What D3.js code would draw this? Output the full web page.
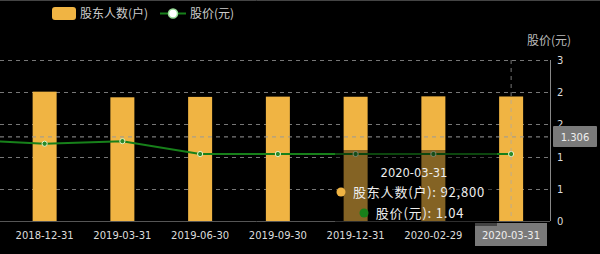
<!DOCTYPE html>
<html lang="zh">
<head>
    <meta charset="UTF-8">
    <title>股东人数</title>
    <script src="https://cdn.jsdelivr.net/npm/d3@7/dist/d3.min.js"></script>
    <style>
        body { margin: 0; background: #000; }
        svg { display: block; }
    </style>
</head>
<body>
<svg width="600" height="254" id="main"></svg>
<script>
    // first category sits just off the left edge, only its price line shows
    let dates = ['2018-09-30', '2018-12-31', '2019-03-31', '2019-06-30', '2019-09-30',
        '2019-12-31', '2020-02-29', '2020-03-31'];
    let holders = [null, 96400, 92200, 92500, 92700, 92600, 92900, 92800];
    let prices = [1.26, 1.20, 1.24, 1.04, 1.04, 1.04, 1.04, 1.04];
    let priceTicks = [0, 0.5, 1, 1.5, 2, 2.5];

    let svg = d3.select('#main');
    const font = '"Noto Sans CJK SC", "DejaVu Sans", sans-serif';
    const plot = {top: 60, bottom: 221, right: 550};

    let x = d3.scaleBand().domain(dates).range([-72, plot.right]).padding(0);
    let yLeft = d3.scaleLinear().domain([0, 120000]).range([plot.bottom, plot.top]);
    let yRight = d3.scaleLinear().domain([0, 2.5]).range([plot.bottom, plot.top]);
    const cx = d => x(d) + x.bandwidth() / 2;

    svg.append('line').attr('x1', 0).attr('x2', 600).attr('y1', 0.5).attr('y2', 0.5)
        .attr('stroke', '#444');

    // grid
    svg.append('g').selectAll('line').data(priceTicks.slice(1)).join('line')
        .attr('x1', 0).attr('x2', plot.right)
        .attr('y1', d => Math.round(yRight(d)) + 0.5).attr('y2', d => Math.round(yRight(d)) + 0.5)
        .attr('stroke', '#777').attr('stroke-dasharray', '4,4');

    // bars
    svg.append('g').selectAll('rect').data(dates.filter((d, i) => holders[i] != null)).join('rect')
        .attr('x', d => cx(d) - 12).attr('width', 24)
        .attr('y', d => yLeft(holders[dates.indexOf(d)]))
        .attr('height', d => plot.bottom - yLeft(holders[dates.indexOf(d)]))
        .attr('fill', '#f0b443');

    // axes lines
    svg.append('line').attr('x1', 0).attr('x2', plot.right).attr('y1', plot.bottom + 0.5).attr('y2', plot.bottom + 0.5)
        .attr('stroke', '#555');
    svg.append('line').attr('x1', plot.right + 0.5).attr('x2', plot.right + 0.5).attr('y1', plot.top).attr('y2', plot.bottom)
        .attr('stroke', '#888');

    // price line
    let line = d3.line().x((d, i) => cx(dates[i])).y(d => yRight(d));
    svg.append('path').datum(prices).attr('d', line)
        .attr('fill', 'none').attr('stroke', '#17801a').attr('stroke-width', 2);
    svg.append('g').selectAll('circle').data(prices).join('circle')
        .attr('cx', (d, i) => cx(dates[i])).attr('cy', d => yRight(d)).attr('r', 2.6)
        .attr('fill', '#2a8a2a').attr('stroke', '#e8f5c8').attr('stroke-width', 1);

    // x labels (only the categories inside the view)
    svg.append('g').selectAll('text').data(dates.filter(d => cx(d) > 0)).join('text')
        .attr('x', d => cx(d)).attr('y', 239)
        .attr('text-anchor', 'middle').attr('fill', '#ddd')
        .attr('font-family', '"DejaVu Sans", sans-serif').attr('font-size', 10)
        .text(d => d);

    // right axis labels
    svg.append('g').selectAll('text').data(priceTicks).join('text')
        .attr('x', 557).attr('y', d => yRight(d) + 4)
        .attr('fill', '#ddd').attr('font-family', '"DejaVu Sans", sans-serif').attr('font-size', 10)
        .text(d => d.toFixed(0));
    svg.append('text').attr('x', 527).attr('y', 45).attr('fill', '#bbb')
        .attr('font-family', font).attr('font-size', 12).text('股价(元)');

    // legend
    let legend = svg.append('g').attr('font-family', font).attr('font-size', 12).attr('fill', '#ccc');
    legend.append('rect').attr('x', 52).attr('y', 7).attr('width', 24).attr('height', 13).attr('rx', 3)
        .attr('fill', '#f0b443');
    legend.append('text').attr('x', 80).attr('y', 18).text('股东人数(户)');
    legend.append('line').attr('x1', 160).attr('x2', 186).attr('y1', 13.5).attr('y2', 13.5)
        .attr('stroke', '#17801a').attr('stroke-width', 2);
    legend.append('circle').attr('cx', 173).attr('cy', 13.5).attr('r', 4.5).attr('fill', '#fff')
        .attr('stroke', '#9d9').attr('stroke-width', 1.5);
    legend.append('text').attr('x', 190).attr('y', 18).text('股价(元)');

    // axis pointer
    let hover = dates.length - 1;
    let pointerPrice = 1.306;
    let py = yRight(pointerPrice);
    svg.append('line').attr('x1', 0).attr('x2', plot.right).attr('y1', py).attr('y2', py)
        .attr('stroke', '#999').attr('stroke-dasharray', '4,4');
    svg.append('line').attr('x1', cx(dates[hover])).attr('x2', cx(dates[hover]))
        .attr('y1', plot.top).attr('y2', plot.bottom)
        .attr('stroke', '#aaa').attr('stroke-opacity', 0.7).attr('stroke-dasharray', '4,4');

    svg.append('rect').attr('x', 553).attr('y', py - 11).attr('width', 44).attr('height', 21)
        .attr('fill', '#7a7a7a').attr('rx', 1);
    svg.append('text').attr('x', 575).attr('y', py + 4).attr('text-anchor', 'middle')
        .attr('fill', '#eee').attr('font-family', '"DejaVu Sans", sans-serif').attr('font-size', 10)
        .text(pointerPrice.toFixed(3));
    svg.append('rect').attr('x', 475).attr('y', 223).attr('width', 72).attr('height', 23)
        .attr('fill', '#7a7a7a');
    svg.append('text').attr('x', 511).attr('y', 239).attr('text-anchor', 'middle')
        .attr('fill', '#eee').attr('font-family', '"DejaVu Sans", sans-serif').attr('font-size', 10)
        .text(dates[hover]);

    // tooltip
    let tip = svg.append('g');
    tip.append('rect').attr('x', 335).attr('y', 150).attr('width', 162).attr('height', 76)
        .attr('fill', 'rgba(0,0,0,0.45)');
    let tipText = tip.append('g').attr('font-family', font).attr('font-size', 13)
        .attr('letter-spacing', 0.8).attr('fill', '#eee').attr('text-anchor', 'middle');
    tipText.append('text').attr('x', 414).attr('y', 177).attr('letter-spacing', 0)
        .attr('font-family', '"DejaVu Sans", sans-serif').attr('font-size', 11.5).text(dates[hover]);
    tipText.append('text').attr('x', 419).attr('y', 197)
        .text('股东人数(户): ' + d3.format(',')(holders[hover]));
    tipText.append('text').attr('x', 420).attr('y', 218)
        .text('股价(元): ' + prices[hover].toFixed(2));
    tip.append('circle').attr('cx', 341).attr('cy', 192).attr('r', 4.5).attr('fill', '#f0b443');
    tip.append('circle').attr('cx', 364).attr('cy', 213).attr('r', 4.5).attr('fill', '#17801a');
</script>
</body>
</html>
